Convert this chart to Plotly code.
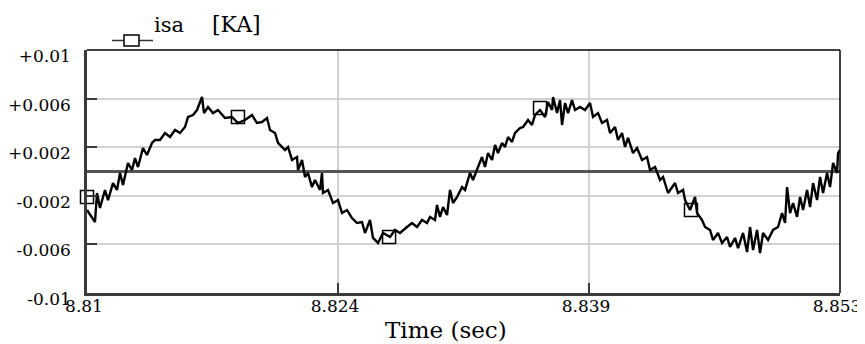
import plotly.graph_objects as go

# ---- data (time offset in ms from 8.81 s, current in 1e-3 KA) ----
t_start = 8.81
time_ms = [0.000, 0.457, 0.571, 0.742, 1.028, 1.199, 1.485, 1.713, 1.885, 2.056,
           2.341, 2.570, 2.741, 2.913, 3.198, 3.427, 3.712, 3.883, 4.169, 4.455,
           4.740, 5.026, 5.311, 5.597, 5.768, 6.054, 6.282, 6.568, 6.682, 6.910,
           7.196, 7.481, 7.881, 8.281, 8.623, 9.023, 9.423, 9.708, 9.994, 10.280,
           10.451, 10.737, 10.908, 11.308, 11.479, 11.707, 11.993, 12.050, 12.278, 12.450,
           12.621, 12.849, 13.021, 13.306, 13.420, 13.477, 13.763, 14.048, 14.334, 14.562,
           14.848, 15.133, 15.419, 15.704, 15.876, 16.161, 16.333, 16.618, 16.904, 17.304,
           17.589, 17.875, 18.275, 18.560, 18.846, 19.131, 19.417, 19.588, 19.874, 19.988,
           20.159, 20.331, 20.559, 20.730, 20.902, 21.130, 21.416, 21.587, 21.873, 22.044,
           22.329, 22.558, 22.729, 22.900, 23.129, 23.300, 23.471, 23.700, 23.871, 24.043,
           24.271, 24.442, 24.728, 24.899, 25.185, 25.413, 25.585, 25.870, 26.156, 26.327,
           26.556, 26.613, 26.841, 27.012, 27.127, 27.298, 27.469, 27.698, 27.869, 28.155,
           28.440, 28.726, 28.897, 29.183, 29.411, 29.697, 29.868, 30.154, 30.325, 30.553,
           30.725, 30.896, 31.182, 31.410, 31.696, 31.981, 32.152, 32.438, 32.724, 32.895,
           33.180, 33.409, 33.580, 33.751, 34.037, 34.151, 34.437, 34.722, 34.837, 35.122,
           35.293, 35.579, 35.750, 36.036, 36.264, 36.550, 36.721, 37.007, 37.178, 37.464,
           37.692, 37.863, 38.035, 38.263, 38.434, 38.606, 38.891, 39.177, 39.462, 39.691,
           39.862, 39.977, 40.148, 40.320, 40.548, 40.719, 40.891, 41.119, 41.290, 41.462,
           41.690, 41.861, 42.033, 42.261, 42.432, 42.604, 42.832, 42.889, 43.000]
isa_mKA = [-3.17, -4.16, -1.77, -3.00, -1.52, -2.35, -0.95, -1.52, -0.12, -1.11,
           0.70, 0.12, 1.11, 0.37, 1.93, 1.36, 2.35, 2.59, 2.59, 3.17,
           2.84, 3.42, 3.17, 3.66, 4.49, 4.65, 5.06, 6.13, 4.81, 5.31,
           4.81, 5.06, 4.40, 4.49, 3.99, 4.24, 4.65, 3.99, 4.07, 4.40,
           3.42, 3.17, 2.35, 1.77, 2.02, 0.95, 1.19, 0.12, 0.95, -0.45,
           -0.12, -1.28, -0.70, -1.52, -0.12, -1.77, -1.52, -2.59, -2.35, -3.42,
           -3.17, -3.83, -4.24, -4.16, -5.06, -3.99, -5.47, -5.88, -5.06, -5.39,
           -4.81, -5.06, -4.57, -4.24, -4.57, -3.99, -4.24, -3.74, -3.99, -2.76,
           -3.74, -2.92, -3.58, -1.52, -2.59, -2.10, -1.28, -1.52, -0.12, -0.70,
           0.37, 1.19, 0.37, 1.52, 0.95, 2.18, 1.52, 2.35, 2.02, 2.84,
           2.43, 3.17, 3.58, 3.66, 4.24, 3.83, 4.65, 5.06, 4.49, 5.72,
           5.06, 6.13, 4.81, 5.88, 3.83, 5.64, 4.81, 5.88, 5.06, 5.31,
           5.06, 5.64, 4.49, 4.81, 3.99, 4.24, 3.17, 3.66, 2.59, 3.17,
           2.02, 2.76, 1.52, 1.93, 0.95, 1.19, 0.12, 0.37, -0.70, -0.45,
           -1.77, -1.28, -0.95, -1.77, -1.52, -2.35, -3.17, -2.10, -3.42, -3.99,
           -4.57, -4.81, -5.64, -5.06, -5.88, -5.39, -6.21, -5.47, -6.30, -5.06,
           -6.63, -4.57, -6.46, -4.81, -6.71, -5.06, -5.64, -4.81, -4.57, -3.42,
           -4.24, -1.28, -3.42, -2.59, -3.74, -2.10, -3.17, -1.52, -2.92, -0.95,
           -2.35, -0.45, -1.77, -0.12, -1.28, 0.70, -0.12, 1.52, 1.77]

marker_ms = [0.00, 8.62, 17.25, 25.87, 34.49, 43.11]
marker_mKA = [-2.10, 4.48, -5.39, 5.23, -3.17, 1.95]

x_tickvals = [8.81, 8.824333, 8.838667, 8.853]
x_ticktext = ["8.81", "8.824", "8.839", "8.853"]
y_tickvals = [0.01, 0.006, 0.002, -0.002, -0.006, -0.01]
y_ticktext = ["+0.01", "+0.006", "+0.002", "-0.002", "-0.006", "-0.01"]

legend_name = "isa"
legend_unit = "[KA]"
x_title = "Time (sec)"

# ---- build figure ----
x_curve = [t_start + m / 1000.0 for m in time_ms]
y_curve = [v / 1000.0 for v in isa_mKA]
x_mark = [t_start + m / 1000.0 for m in marker_ms]
y_mark = [v / 1000.0 for v in marker_mKA]

FONT = "DejaVu Serif"
fig = go.Figure()
fig.add_trace(go.Scatter(x=x_curve, y=y_curve, mode="lines",
                         line=dict(color="#000000", width=2.4),
                         hoverinfo="skip", showlegend=False))
fig.add_trace(go.Scatter(x=x_mark, y=y_mark, mode="markers",
                         marker=dict(symbol="square-open", size=13, color="#000000",
                                     line=dict(width=1.5, color="#000000")),
                         cliponaxis=False, showlegend=False))

axis_common = dict(showline=True, linecolor="#3a3a3a", linewidth=2.5,
                   ticks="inside", ticklen=10, tickwidth=2, tickcolor="#3a3a3a",
                   showgrid=True, gridcolor="#d2d2d2", gridwidth=1.5,
                   automargin=False,
                   tickfont=dict(family=FONT, size=17, color="#000000"))

fig.update_xaxes(range=[8.81, 8.853], tickmode="array", tickvals=x_tickvals,
                 ticktext=x_ticktext, zeroline=False, ticklabelshift=-3,
                 ticklabelstandoff=-4, **axis_common)
fig.update_yaxes(range=[-0.01, 0.01], tickmode="array", tickvals=y_tickvals,
                 ticktext=y_ticktext, zeroline=True, zerolinecolor="#555555",
                 zerolinewidth=2.5, ticklabelshift=6, ticklabelstandoff=10,
                 **axis_common)

# page has an 8px default body margin: compensate so the plot area sits
# at page pixels x 87..840, y 50..293
OFF = 8
W, H = 865 - OFF, 344 - OFF
L, T = 87 - OFF, 50 - OFF
pw, ph = 753, 243
R, B = W - L - pw, H - T - ph


def px(xp):
    return (xp - OFF - L) / pw


def py(yp):
    return (T + ph - (yp - OFF)) / ph


shapes = [
    dict(type="line", xref="paper", yref="paper", x0=0, x1=1, y0=1, y1=1,
         line=dict(color="#000000", width=1.5)),
    dict(type="line", xref="paper", yref="paper", x0=1, x1=1, y0=0, y1=1,
         line=dict(color="#000000", width=1.5)),
    dict(type="line", xref="paper", yref="paper", x0=px(112), x1=px(153),
         y0=py(40.5), y1=py(40.5), line=dict(color="#333333", width=1.5)),
    dict(type="rect", xref="paper", yref="paper", x0=px(124), x1=px(139),
         y0=py(35), y1=py(46), line=dict(color="#000000", width=1.5),
         fillcolor="#ffffff"),
]

annotations = [
    dict(text=legend_name, xref="paper", yref="paper", x=px(152), y=py(25),
         xanchor="left", yanchor="middle", showarrow=False,
         font=dict(family=FONT, size=21, color="#000000")),
    dict(text=legend_unit, xref="paper", yref="paper", x=px(210), y=py(25),
         xanchor="left", yanchor="middle", showarrow=False,
         font=dict(family=FONT, size=22, color="#000000")),
    dict(text=x_title, xref="paper", yref="paper", x=px(446), y=py(330),
         xanchor="center", yanchor="middle", showarrow=False,
         font=dict(family=FONT, size=23, color="#000000")),
]

fig.update_layout(width=W, height=H, margin=dict(l=L, r=R, t=T, b=B),
                  paper_bgcolor="#ffffff", plot_bgcolor="#ffffff",
                  showlegend=False, shapes=shapes, annotations=annotations)

fig.write_html("out.html")
